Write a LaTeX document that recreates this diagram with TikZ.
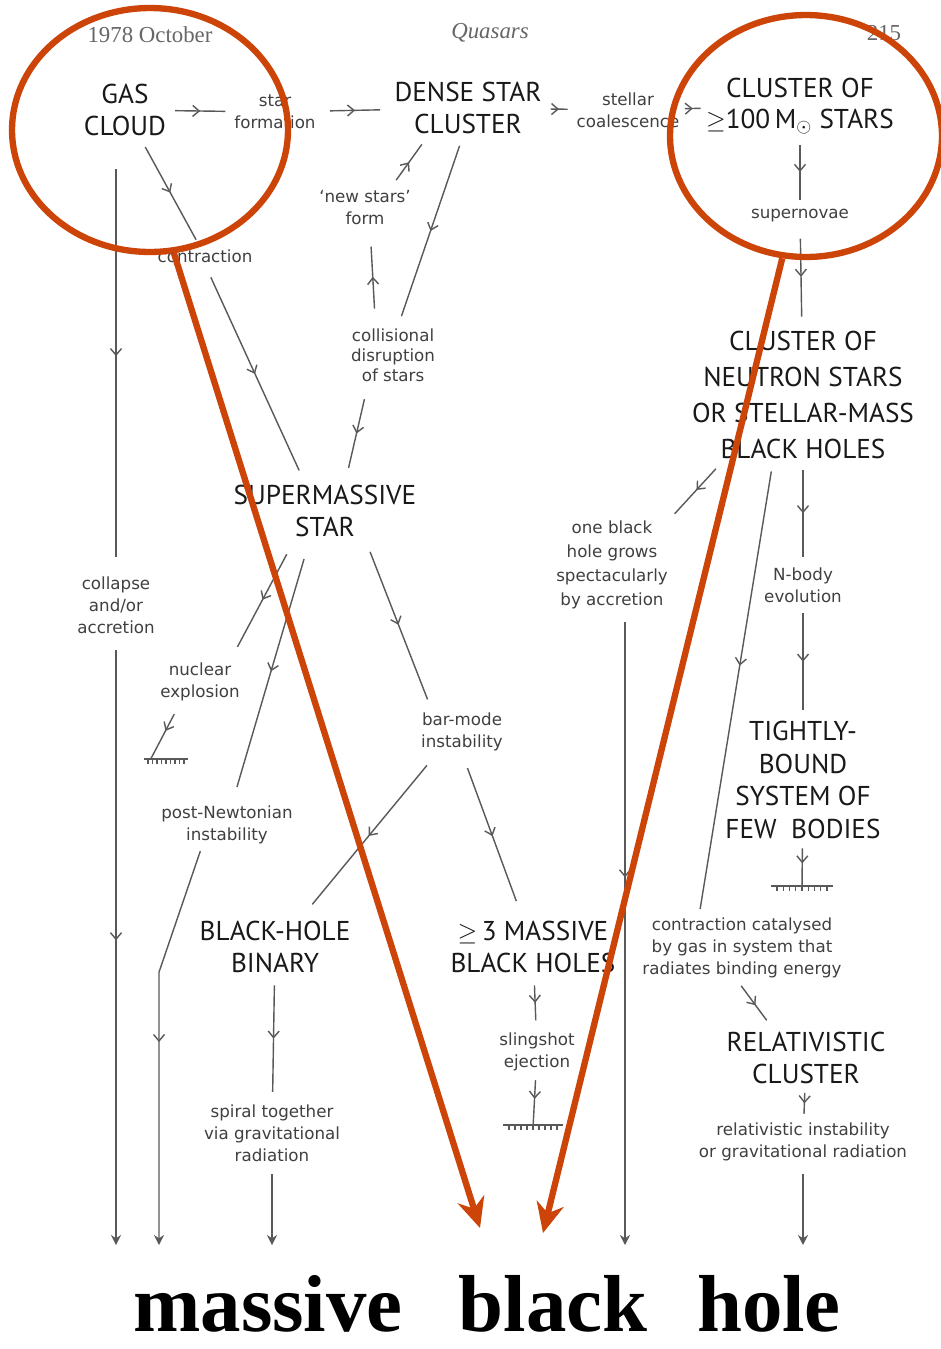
\documentclass[tikz,border=0pt]{standalone}
\usepackage{fontspec}
\setmainfont{Liberation Serif}
\newfontfamily\capsfont{PT Sans}
\newfontfamily\notefont{DejaVu Sans}
\usetikzlibrary{positioning, arrows.meta, calc, shapes.geometric, decorations.markings}
\definecolor{hlred}{RGB}{205,68,8}

\begin{document}
\begin{tikzpicture}[
    x=0.02cm, y=-0.02cm,
    stage/.style={align=center, inner sep=1pt, text=black!90,
        font=\capsfont\fontsize{15.5}{18}\selectfont},
    note/.style={align=center, inner sep=1pt, text=black!75,
        font=\notefont\fontsize{9.5}{12.5}\selectfont},
    head/.style={text=black!60, font=\fontsize{13}{15}\selectfont},
    word/.style={anchor=base, inner sep=0pt, text=black, font=\bfseries\fontsize{46}{48}\selectfont},
    flow/.style={draw=black!65, line width=0.8pt, postaction={decorate},
        decoration={markings,
            mark=at position #1 with {\arrow{Straight Barb[length=1.3mm,width=2.2mm]}}}},
    flow/.default=0.5,
    plain/.style={draw=black!65, line width=0.8pt},
    tip/.style={-{Stealth[length=2mm,width=2mm]}},
    earth/.style={minimum width=#1, minimum height=0.14cm, inner sep=0pt, outer sep=0pt,
        path picture={
            \draw[black!65, line width=1.6pt] (path picture bounding box.north west)
                -- (path picture bounding box.north east);
            \foreach \k in {1,...,9}
                \draw[black!65, line width=0.6pt]
                    ($(path picture bounding box.north west)!\k/10!(path picture bounding box.north east)$)
                    -- ++(0,-0.1cm);
        }},
    ring/.style={ellipse, draw=hlred, line width=3.6pt, inner sep=0pt},
    hl/.style={draw=hlred, line width=3.6pt, -{Stealth[length=6mm,width=5.5mm]}}
]
\useasboundingbox[fill=white] (0,0) rectangle (940,1349);

% running head
\node[head] (date) at (150,35) {1978 October};
\node[head, font=\itshape\fontsize{13}{15}\selectfont] (title) at (490,33) {Quasars};
\node[head] (page) at (884,33) {215};

% stages
\node[stage] (gas) at (125,110) {GAS\\CLOUD};
\node[stage] (dense) at (468,108) {DENSE STAR\\CLUSTER};
\node[stage] (hundred) at (800,106) {CLUSTER OF\\$\geq$100\,M$_{\odot}$ STARS};
\node[stage, font=\capsfont\fontsize{15.5}{20.5}\selectfont] (neutron) at (803,395) {
    CLUSTER OF\\NEUTRON STARS\\OR STELLAR-MASS\\BLACK HOLES
};
\node[stage] (super) at (325,511) {SUPERMASSIVE\\STAR};
\node[stage, font=\capsfont\fontsize{15.5}{18.7}\selectfont] (tight) at (803,780) {
    TIGHTLY-\\BOUND\\SYSTEM OF\\FEW\ \ BODIES
};
\node[stage] (binary) at (275,947) {BLACK-HOLE\\BINARY};
\node[stage] (three) at (533,947) {$\geq$\,3 MASSIVE\\BLACK HOLES};
\node[stage] (rel) at (806,1058) {RELATIVISTIC\\CLUSTER};

% processes
\node[note] (starf) at (275,112) {star\\formation};
\node[note] (coal) at (628,110) {stellar\\coalescence};
\node[note] (snova) at (800,216) {supernovae};
\node[note] (newst) at (365,208) {‘new stars’\\form};
\node[note] (contr) at (205,256) {contraction};
\node[note, font=\notefont\fontsize{9.5}{11.5}\selectfont] (colli) at (393,355) {
    collisional\\disruption\\of stars
};
\node[note] (collapse) at (116,605) {collapse\\and/or\\accretion};
\node[note] (nucl) at (200,682) {nuclear\\explosion};
\node[note] (postn) at (227,825) {post-Newtonian\\instability};
\node[note] (bar) at (462,732) {bar-mode\\instability};
\node[note] (sling) at (537,1052) {slingshot\\ejection};
\node[note] (spiral) at (272,1133) {spiral together\\via gravitational\\radiation};
\node[note, font=\notefont\fontsize{9.5}{13.6}\selectfont] (grows) at (612,565) {
    one black\\hole grows\\spectacularly\\by accretion
};
\node[note] (nbody) at (803,585) {N-body\\evolution};
\node[note] (catal) at (742,948) {
    contraction catalysed\\by gas in system that\\radiates binding energy
};
\node[note] (relinst) at (803,1142) {relativistic instability\\or gravitational radiation};

% dead ends
\node[earth=0.9cm] (gnd1) at (166,762) {};
\node[earth=1.2cm] (gnd2) at (533,1128) {};
\node[earth=1.25cm] (gnd3) at (802,889) {};

% outcome
\node[word] (massive) at (268,1331) {massive};
\node[word] (black) at (553,1331) {black};
\node[word] (hole) at (769,1331) {hole};
\coordinate (floor) at (0,1245);

% top row
\draw[flow, shorten <=4pt, shorten >=4pt] (gas) -- (starf);
\draw[flow, shorten <=7pt, shorten >=7pt] (starf) -- (dense);
\draw[flow, shorten <=4pt, shorten >=4pt] (dense) -- (coal);
\draw[flow, shorten <=2pt, shorten >=2pt] (coal) -- (hundred);

% right column
\draw[flow, shorten <=5pt, shorten >=4pt] (hundred) -- (snova);
\draw[flow, shorten <=8pt, shorten >=7pt] (snova) -- (neutron);
\draw[flow, shorten <=5pt, shorten >=5pt] (neutron) -- (nbody);
\draw[flow, shorten <=5pt, shorten >=5pt] (nbody) -- (tight);
\draw[flow, shorten <=4pt] (tight) -- (gnd3);
\draw[flow=0.45, shorten <=6pt, shorten >=4pt] ([xshift=-0.6cm]neutron.south) -- ([xshift=-0.86cm]catal.north);
\draw[flow, shorten <=4pt, shorten >=7pt] ([xshift=-0.1cm]catal.south) -- ([xshift=-0.64cm]rel.north);
\draw[flow, shorten <=4pt, shorten >=4pt] (rel) -- (relinst);
\draw[plain, tip, shorten <=6pt] (relinst.south) -- (relinst.south |- floor);
\draw[flow, shorten <=6pt, shorten >=4pt] ([xshift=-1.6cm]neutron.south) -- (grows.north east);
\draw[flow=0.42, tip, shorten <=6pt] ($(grows.south)+(13,0)$) -- ($(grows.south |- floor)+(13,0)$);

% dense star cluster loop
\draw[flow, shorten <=6pt, shorten >=6pt] ([xshift=0.5cm]newst.north) -- ([xshift=-0.8cm]dense.south);
\draw[flow, shorten <=10pt, shorten >=11pt] ([xshift=-0.35cm]colli.north) -- ([xshift=0.1cm]newst.south);
\draw[flow, shorten <=6pt, shorten >=6pt] ([xshift=-0.1cm]dense.south) -- ([xshift=0.1cm]colli.north);
\draw[flow, shorten <=9pt, shorten >=9pt] ([xshift=-0.5cm]colli.south) -- ([xshift=0.4cm]super.north);

% gas cloud
\draw[flow, shorten <=6pt, shorten >=5pt] (gas) -- (contr);
\draw[flow, shorten <=8pt, shorten >=8pt] (contr.south) -- ([xshift=-0.4cm]super.north);
\draw[flow, shorten <=18pt, shorten >=10pt] (gas.south -| collapse) -- (collapse.north);
\draw[flow, tip, shorten <=8pt] (collapse.south) -- (collapse |- floor);

% supermassive star
\draw[flow, shorten <=10pt, shorten >=9pt] ([xshift=-0.6cm]super.south) -- ([xshift=0.6cm]nucl.north);
\draw[flow, shorten <=7pt] ([xshift=-0.4cm]nucl.south) -- ([xshift=-0.3cm]gnd1.north);
\draw[flow, shorten <=12pt, shorten >=10pt] ([xshift=-0.3cm]super.south) -- ([xshift=0.1cm]postn.north);
\draw[flow, tip, shorten <=3pt] ([xshift=-0.5cm]postn.south) -- ++(-43,126) coordinate (pnbend) -- (pnbend |- floor);
\draw[flow, shorten <=8pt, shorten >=7pt] ([xshift=0.8cm]super.south) -- ([xshift=-0.6cm]bar.north);
\draw[flow, shorten <=9pt, shorten >=11pt] ([xshift=-0.5cm]bar.south) -- ([xshift=0.5cm]binary.north);
\draw[flow, shorten <=9pt, shorten >=11pt] (bar.south) -- ([xshift=-0.2cm]three.north);
\draw[flow, shorten <=6pt, shorten >=6pt] (binary) -- (spiral);
\draw[plain, tip, shorten <=6pt] (spiral.south) -- (spiral.south |- floor);
\draw[flow, shorten <=6pt, shorten >=6pt] (three) -- (sling);
\draw[flow, shorten <=4pt] (sling) -- (gnd2);

% red highlights
\node[ring, minimum width=5.52cm, minimum height=4.88cm] (ringL) at (150,130) {};
\node[ring, minimum width=5.44cm, minimum height=4.84cm] (ringR) at (806,136) {};
\coordinate (tipL) at (480,1228);
\coordinate (tipR) at (543,1233);
\draw[hl] (ringL.281) -- (tipL);
\draw[hl] (ringR.259) -- (tipR);

\end{tikzpicture}
\end{document}
